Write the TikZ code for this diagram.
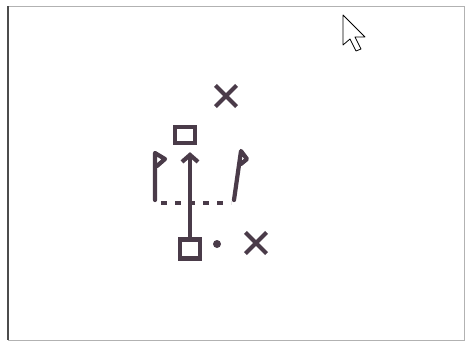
\documentclass[tikz,border=0pt]{standalone}
\usepackage{tikz}
\usetikzlibrary{arrows.meta,shapes.misc}
\definecolor{pen}{HTML}{4A3B49}

\begin{document}
\begin{tikzpicture}[x=1pt, y=-1pt, >=Latex,
  inkline/.style={draw=pen, line width=4.2pt},
  cone/.style={inkline, rectangle, minimum width=20pt, minimum height=16pt, inner sep=0pt},
  player/.style={inkline, cross out, minimum size=17pt, inner sep=0pt},
  ball/.style={circle, fill=pen, minimum size=8pt, inner sep=0pt},
  flag/.style={inkline, line cap=round, line join=round},
  line/.style={-{Straight Barb[length=7pt,width=16pt]}, draw=pen, line width=4.2pt}]
\useasboundingbox (0,0) rectangle (466,341);
% sheet
\draw[gray!60, line width=1pt] (8,6) rectangle (464,340);
\draw[black!70, line width=1.8pt] (8,6) -- (8,340);
% players, cones and ball
\node[player] (top x) at (226,96) {};
\node[cone] (top cone) at (185,135) {};
\node[cone, minimum width=20pt, minimum height=19pt] (start cone) at (190,249) {};
\node[ball] (ball) at (217,244) {};
\node[player] (right x) at (256,243) {};
% goal flags
\coordinate (left post) at (155,200);
\coordinate (right post) at (234,200);
\draw[flag] (left post) -- ++(0,-47) -- ++(10,6) -- ++(-8,7);
\draw[flag] (right post) -- ++(7,-49) -- ++(6,8) -- ++(-6,5);
\coordinate (line left) at (161,203);
\coordinate (line right) at (231,203);
\draw[pen, line width=4pt, dash pattern=on 6pt off 8pt] (line left) -- (line right);
% run
\draw[line, shorten >=7pt] (start cone.north) -- (start cone.north |- top cone.south);
% cursor
\draw[fill=white, line width=0.8pt, line join=round] (343,15) -- ++(0,30) -- ++(7,-6) -- ++(6,12) -- ++(5,-2) -- ++(-6,-12) -- ++(10,0) -- cycle;
\end{tikzpicture}
\end{document}
